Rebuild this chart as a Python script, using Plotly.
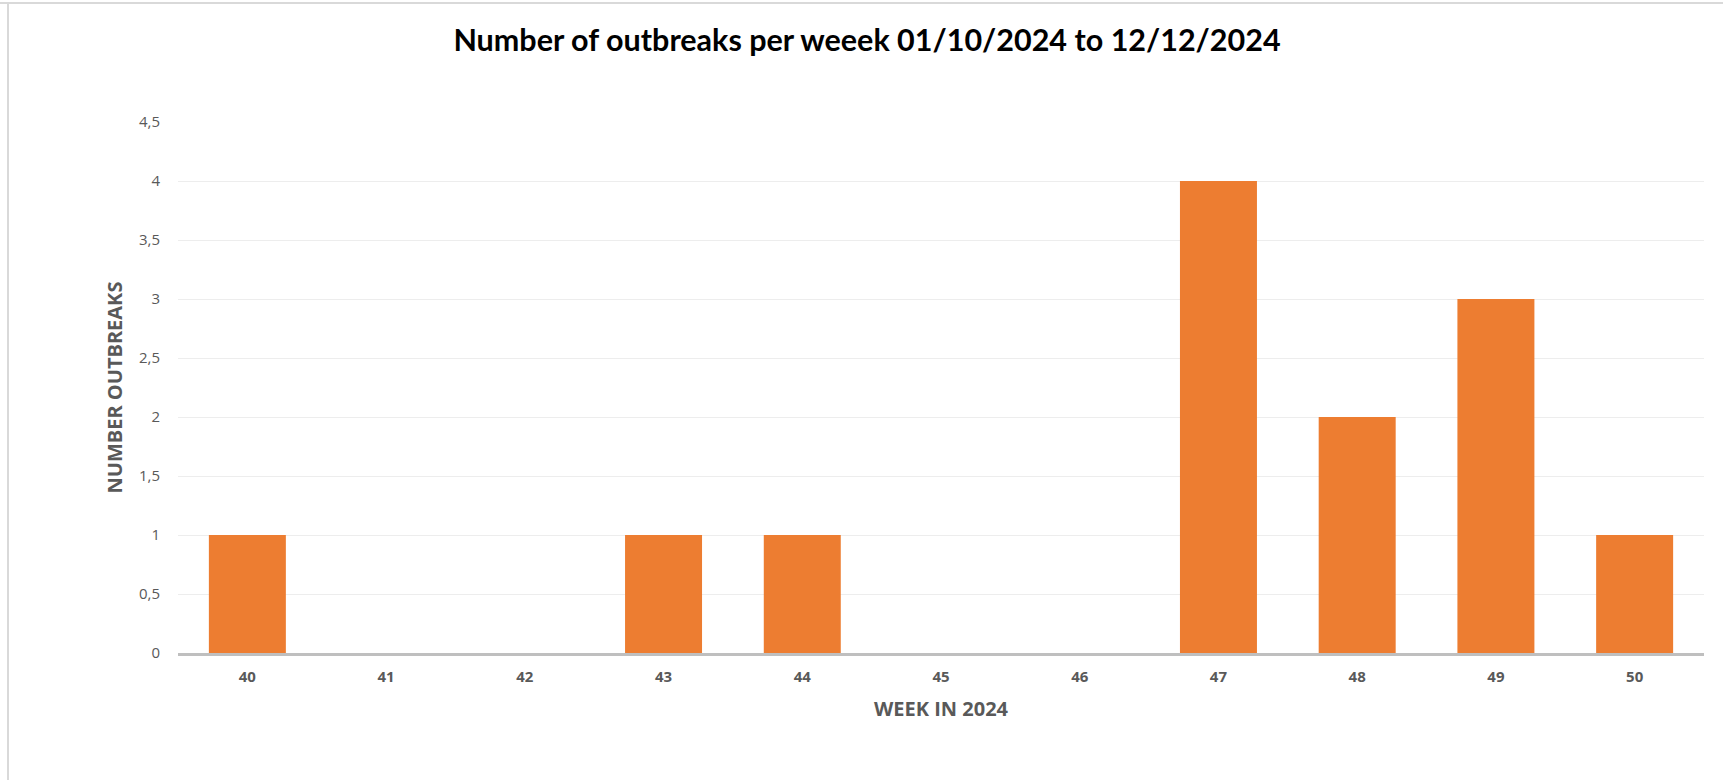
import plotly.graph_objects as go

weeks = ["40", "41", "42", "43", "44", "45", "46", "47", "48", "49", "50"]
outbreaks = [1, 0, 0, 1, 1, 0, 0, 4, 2, 3, 1]
y_ticks = [0, 0.5, 1, 1.5, 2, 2.5, 3, 3.5, 4, 4.5]

W, H = 1723, 780
L, R, T, B = 178, 19, 122, 127
pw, ph = W - L - R, H - T - B

fig = go.Figure()
fig.add_trace(go.Bar(
    x=weeks, y=outbreaks,
    marker=dict(color="#ED7D31", line=dict(width=0)),
    width=0.555,
))

grey = "#595959"
fig.update_layout(
    width=W, height=H,
    margin=dict(l=L, r=R, t=T, b=B, autoexpand=False),
    paper_bgcolor="white", plot_bgcolor="white",
    separators=", ",
    showlegend=False,
    title=dict(text="<b>Number of outbreaks per weeek 01/10/2024 to 12/12/2024</b>",
               x=(867) / W, xanchor="center", y=1 - 40 / H, yanchor="middle",
               font=dict(family="Lato", size=30.5, color="black")),
    xaxis=dict(type="category", showgrid=False, showline=True, linecolor="#BFBFBF", linewidth=2.5,
               ticks="", tickfont=dict(family="Open Sans", size=15, color=grey, weight="bold"),
               ticklabelstandoff=8,
               title=dict(text="<b>WEEK IN 2024</b>", font=dict(family="Open Sans", size=20, color=grey), standoff=18),
               range=[-0.5, 10.5], zeroline=False),
    yaxis=dict(range=[0, 4.5], tickvals=y_ticks, showgrid=True, gridcolor="#EDEDED", gridwidth=1,
               ticks="", showline=False, zeroline=False,
               tickfont=dict(family="Open Sans", size=15, color=grey), ticklabelstandoff=17,
               title=dict(text="<b>NUMBER OUTBREAKS</b>", font=dict(family="Open Sans", size=20, color=grey), standoff=10)),
    shapes=[
        dict(type="line", xref="paper", yref="paper", x0=(0 - L) / pw, x1=(W - L) / pw,
             y0=1 + (T - 3) / ph, y1=1 + (T - 3) / ph, line=dict(color="#D9D9D9", width=2)),
        dict(type="line", xref="paper", yref="paper", x0=(8 - L) / pw, x1=(8 - L) / pw,
             y0=1 + (T - 3) / ph, y1=-(B) / ph, line=dict(color="#D9D9D9", width=2)),
    ],
)

fig.write_html("out.html", config={"displayModeBar": False},
               post_script="document.body.style.margin='0';")
